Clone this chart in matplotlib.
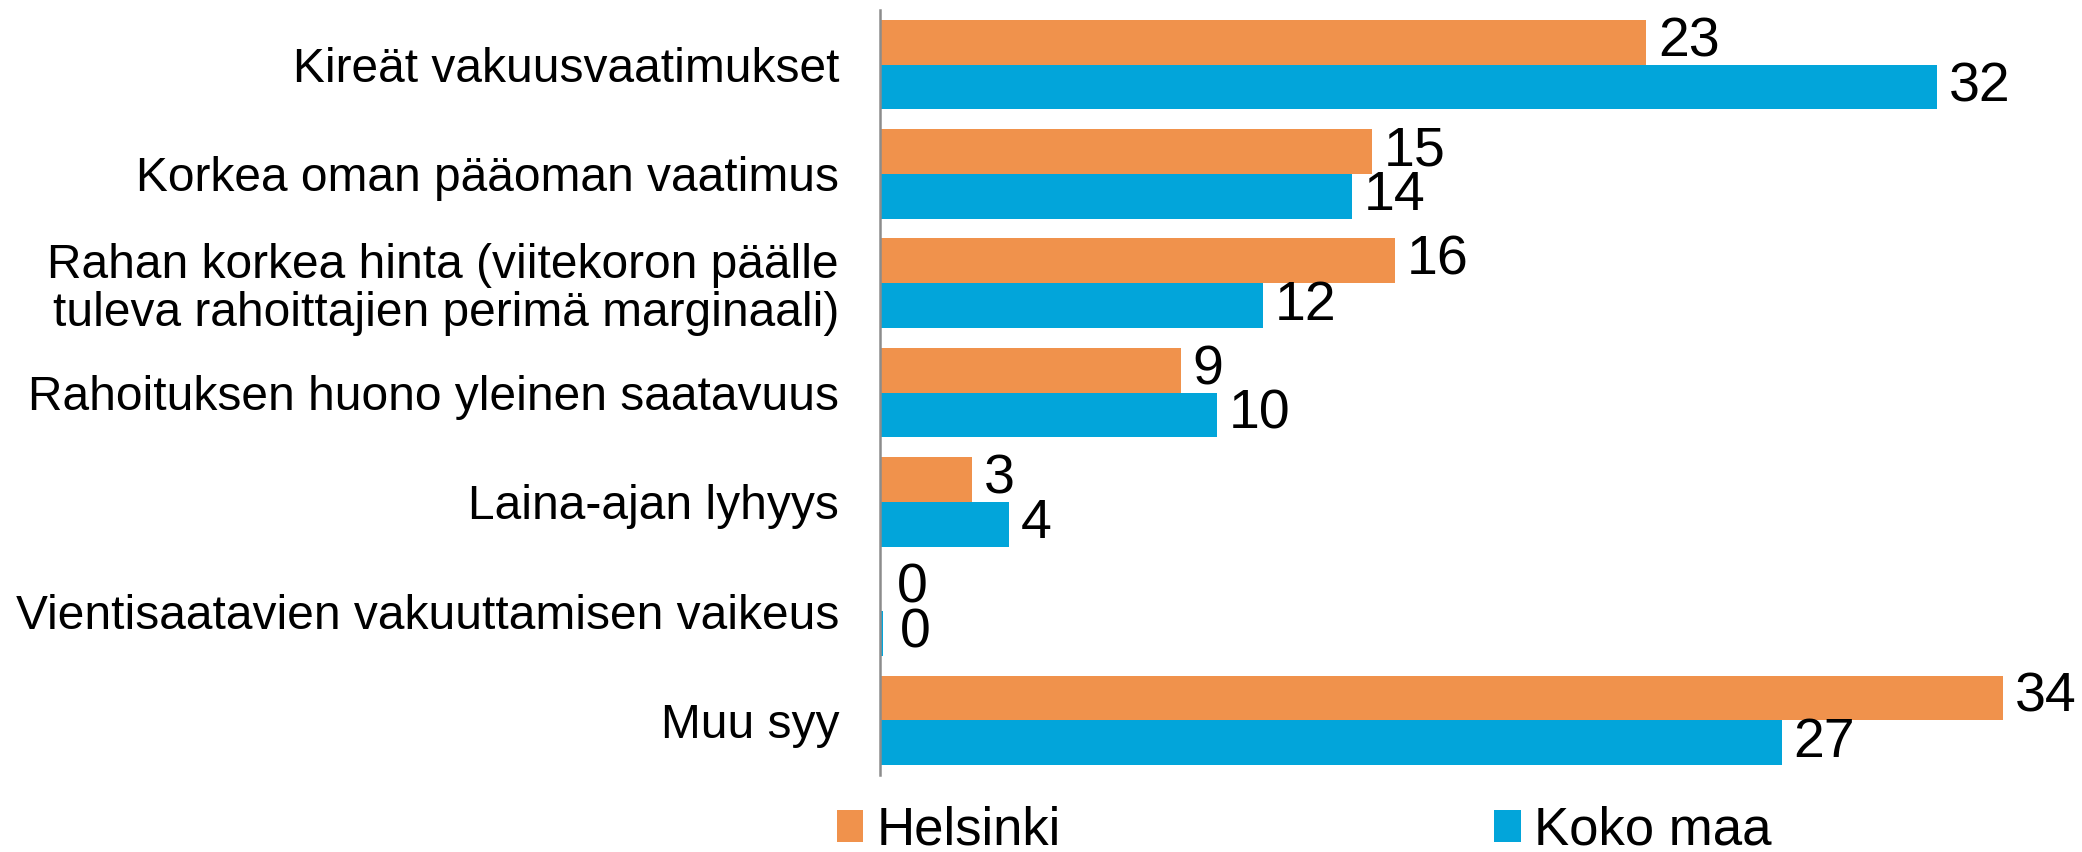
import matplotlib.pyplot as plt
import numpy as np

plt.rcParams['font.family'] = ['Liberation Sans', 'DejaVu Sans']

categories = [
    "Kireät vakuusvaatimukset",
    "Korkea oman pääoman vaatimus",
    "Rahan korkea hinta (viitekoron päälle\ntuleva rahoittajien perimä marginaali)",
    "Rahoituksen huono yleinen saatavuus",
    "Laina-ajan lyhyys",
    "Vientisaatavien vakuuttamisen vaikeus",
    "Muu syy",
]
helsinki = [23.2, 14.9, 15.6, 9.1, 2.8, 0, 34.0]
koko_maa = [32.0, 14.3, 11.6, 10.2, 3.9, 0.1, 27.3]
series_names = ["Helsinki", "Koko maa"]

orange = "#F0924C"
blue = "#02A5DA"

fig = plt.figure(figsize=(20.82, 8.52), dpi=100)
ax = fig.add_axes([880 / 2082, 1 - 775 / 852, (2003 - 880) / 2082, (775 - 10) / 852])

y = np.arange(len(categories))
h = 0.41
b1 = ax.barh(y - h / 2, helsinki, height=h, color=orange, label=series_names[0])
b2 = ax.barh(y + h / 2, koko_maa, height=h, color=blue, label=series_names[1])

# value labels, rounded like in the source
for yy, vals in ((y - h / 2, helsinki), (y + h / 2, koko_maa)):
    for yi, v in zip(yy, vals):
        off = 0.35 if v >= 1 else 0.5
        ax.text(v + off, yi, "%d" % round(v), va="center", ha="left",
                fontsize=40, clip_on=False)

ax.set_xlim(0, 34)
ax.set_ylim(len(categories) - 0.5, -0.5)
ax.set_yticks(y, categories, fontsize=34.5, linespacing=1.08)
ax.tick_params(axis="y", length=0, pad=29.5)
ax.set_xticks([])
for s in ("top", "right", "bottom"):
    ax.spines[s].set_visible(False)
ax.spines["left"].set_color("#8C8C8C")
ax.spines["left"].set_linewidth(1.8)

fig.legend(handles=[b1, b2], loc="lower left", bbox_to_anchor=(837 / 2082, -0.004),
           ncol=2, frameon=False, fontsize=38, handlelength=0.5, handleheight=0.55,
           handletextpad=0.26, columnspacing=8.2, borderpad=0, borderaxespad=0)

fig.savefig("out.png", dpi=100)
